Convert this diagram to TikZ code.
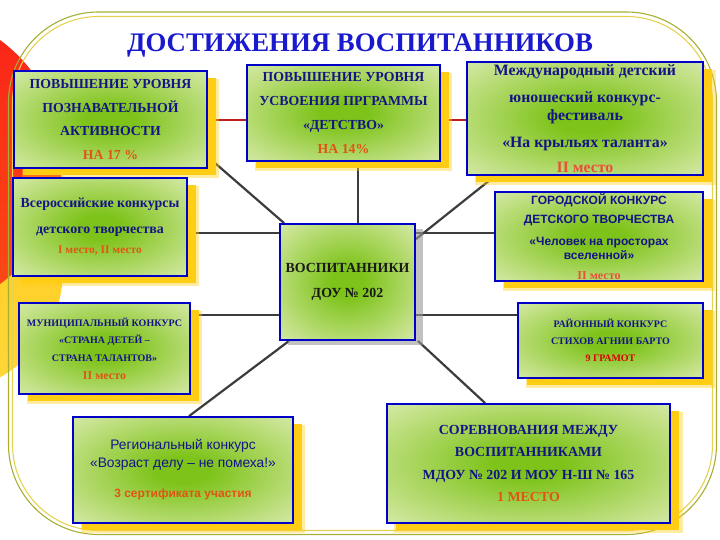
\documentclass[tikz,border=0pt]{standalone}
\usepackage{fontspec}
\setmainfont{Liberation Serif}
\newfontfamily\arialf{Liberation Sans}
\usetikzlibrary{shadows,calc}
\pgfdeclarelayer{deco}
\pgfdeclarelayer{conn}
\pgfsetlayers{deco,conn,main}
\definecolor{navy}{RGB}{20,20,135}
\definecolor{titleblue}{RGB}{25,25,205}
\definecolor{boxblue}{RGB}{0,0,200}
\definecolor{accent}{RGB}{225,85,20}
\definecolor{redtxt}{RGB}{232,80,58}
\definecolor{shadowy}{RGB}{255,205,20}
\definecolor{linegray}{RGB}{60,60,60}
\definecolor{redline}{RGB}{190,30,30}
\definecolor{frameol}{RGB}{165,175,50}
\definecolor{frameyel}{RGB}{230,210,80}
\definecolor{cg}{RGB}{125,195,25}
\definecolor{cm}{RGB}{198,226,140}
\definecolor{cw}{RGB}{246,249,240}
\definecolor{decored}{RGB}{250,35,25}
\definecolor{decored2}{RGB}{250,75,20}
\definecolor{decoyel}{RGB}{255,200,20}
\definecolor{decoyel2}{RGB}{255,215,60}
\pgfdeclareradialshading{boxshade}{\pgfpoint{0bp}{0bp}}{color(0bp)=(cg); color(6bp)=(cg); color(30bp)=(cm); color(50bp)=(cw)}
\tikzset{
  box/.style={draw=boxblue, line width=1.8pt, shading=boxshade, inner sep=0pt, align=center, text=navy,
    drop shadow={shadow xshift=10pt, shadow yshift=-9pt, fill=shadowy, opacity=0.4, shadow scale=1.02},
    drop shadow={shadow xshift=9pt, shadow yshift=-7pt, fill=shadowy, opacity=1}},
  cbox/.style={draw=boxblue, line width=1.8pt, shading=boxshade, inner sep=0pt, align=center, text=black!90,
    drop shadow={shadow xshift=8pt, shadow yshift=-5pt, fill=gray!80, opacity=0.6}},
  conn/.style={draw=linegray, line width=2.2pt},
  rconn/.style={draw=redline, line width=1.3pt},
}
\begin{document}
\begin{tikzpicture}[x=1pt,y=-1pt]
\useasboundingbox (0,0) rectangle (720,540);

% title
\node[font=\fontsize{26.8}{30}\selectfont\bfseries, text=titleblue] (title) at (360,45) {ДОСТИЖЕНИЯ ВОСПИТАННИКОВ};

% boxes
\node[box, minimum width=193pt, minimum height=97pt, font=\fontsize{13.8}{23.7}\selectfont\bfseries] (b1) at (110.5,119.5)
  {ПОВЫШЕНИЕ УРОВНЯ\\ПОЗНАВАТЕЛЬНОЙ\\АКТИВНОСТИ\\\textcolor{accent}{НА 17 \%}};
\node[box, minimum width=193pt, minimum height=96pt, font=\fontsize{13.8}{24}\selectfont\bfseries] (b2) at (343.5,113)
  {ПОВЫШЕНИЕ УРОВНЯ\\УСВОЕНИЯ ПРГРАММЫ\\«ДЕТСТВО»\\\textcolor{accent}{НА 14\%}};
\node[box, minimum width=236pt, minimum height=113pt, font=\fontsize{15.8}{18}\selectfont\bfseries] (b3) at (585,118.5)
  {Международный детский\\[9pt]юношеский конкурс-\\фестиваль\\[9pt]«На крыльях таланта»\\[7pt]\textcolor{redtxt}{II место}};
\node[box, minimum width=174pt, minimum height=98pt, font=\fontsize{13.9}{20}\selectfont\bfseries] (b4) at (100,227)
  {Всероссийские конкурсы\\[6pt]детского творчества\\{\fontsize{11.5}{13}\selectfont\textcolor{accent}{I место, II место}}};
\node[box, minimum width=171pt, minimum height=91pt, font=\fontsize{10}{17.7}\selectfont\bfseries] (b5) at (104.5,348.5)
  {МУНИЦИПАЛЬНЫЙ КОНКУРС\\«СТРАНА ДЕТЕЙ –\\СТРАНА ТАЛАНТОВ»\\{\fontsize{12}{14}\selectfont\textcolor{accent}{II место}}};
\node[cbox, minimum width=135pt, minimum height=116pt, font=\fontsize{13.9}{25}\selectfont\bfseries] (c) at (347.5,282)
  {ВОСПИТАННИКИ\\ДОУ № 202};
\node[box, minimum width=208pt, minimum height=89pt, font=\arialf\fontsize{12}{14}\selectfont\bfseries] (b7) at (599,236.5)
  {ГОРОДСКОЙ КОНКУРС\\[5pt]ДЕТСКОГО ТВОРЧЕСТВА\\[8pt]«Человек на просторах\\вселенной»\\[6pt]{\rmfamily\fontsize{12}{14}\selectfont\textcolor{redtxt}{II место}}};
\node[box, minimum width=185pt, minimum height=75pt, font=\fontsize{10}{17}\selectfont\bfseries] (b8) at (610.5,340.5)
  {РАЙОННЫЙ КОНКУРС\\СТИХОВ АГНИИ БАРТО\\\textcolor{red!85!black}{9 ГРАМОТ}};
\node[box, minimum width=220pt, minimum height=106pt, font=\arialf\fontsize{13.8}{18}\selectfont] (b9) at (183,470)
  {Региональный конкурс\\«Возраст делу – не помеха!»\\[12pt]{\bfseries\fontsize{12}{14}\selectfont\textcolor{accent}{3 сертификата участия}}};
\node[box, minimum width=283pt, minimum height=119pt, font=\fontsize{13.9}{22.5}\selectfont\bfseries] (b10) at (528.5,463.5)
  {СОРЕВНОВАНИЯ МЕЖДУ\\ВОСПИТАННИКАМИ\\МДОУ № 202 И МОУ Н-Ш № 165\\\textcolor{accent}{1 МЕСТО}};

% connectors
\coordinate (vx) at (358,0);
\coordinate (hy1) at (0,233);
\coordinate (hy2) at (0,315);
\coordinate (ry) at (0,120);
\begin{pgfonlayer}{conn}
  \draw[rconn] (b1.east |- ry) -- (b2.west |- ry);
  \draw[rconn] (b2.east |- ry) -- (b3.west |- ry);
  \draw[conn] ($(b1.south east)+(0,-12)$) -- ($(c.north west)+(5,0)$);
  \draw[conn] (b2.south -| vx) -- (c.north -| vx);
  \draw[conn] ($(b3.south west)+(29,0)$) -- ($(c.north east)+(0,16)$);
  \draw[conn] (b4.east |- hy1) -- (c.west |- hy1);
  \draw[conn] (c.east |- hy1) -- (b7.west |- hy1);
  \draw[conn] (b5.east |- hy2) -- (c.west |- hy2);
  \draw[conn] (c.east |- hy2) -- (b8.west |- hy2);
  \draw[conn] ($(c.south west)+(10,0)$) -- ($(b9.north west)+(117,0)$);
  \draw[conn] ($(c.south east)+(2,0)$) -- ($(b10.north west)+(99,0)$);
\end{pgfonlayer}

% decoration
\begin{pgfonlayer}{deco}
  \begin{scope}
    \clip (0,0) rectangle (720,540);
    \shade[top color=decoyel, bottom color=decoyel2] (-60,270) circle[radius=123];
    \shade[top color=decored, bottom color=decored2] (-89,162) circle[radius=151];
    \draw[frameol, line width=1.1pt, rounded corners=90pt] (8.5,12) rectangle (716.5,534.5);
    \draw[frameyel, line width=1.1pt, rounded corners=86pt] (12.5,16.5) rectangle (712.5,530.5);
  \end{scope}
\end{pgfonlayer}
\end{tikzpicture}
\end{document}
